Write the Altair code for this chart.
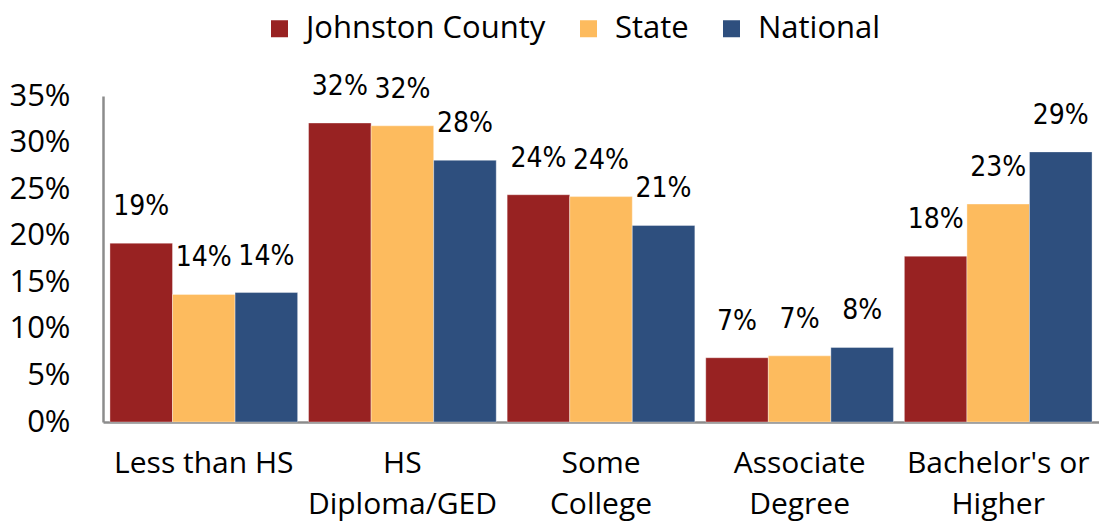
import altair as alt
import pandas as pd

categories = ["Less than HS", "HS|Diploma/GED", "Some|College", "Associate|Degree", "Bachelor's or|Higher"]
series = ["Johnston County", "State", "National"]
johnston = [19.2, 32.1, 24.4, 6.9, 17.8]
state = [13.7, 31.8, 24.2, 7.1, 23.4]
national = [13.9, 28.1, 21.1, 8.0, 29.0]
colors = ["#982222", "#FDBB5E", "#2E4F7E"]
y_ticks = [0, 5, 10, 15, 20, 25, 30, 35]

rows = []
for s, vals in zip(series, [johnston, state, national]):
    for c, v in zip(categories, vals):
        rows.append({"category": c, "series": s, "value": v})
df = pd.DataFrame(rows)

label_font = "DejaVu Sans Condensed, sans-serif"
axis_font = "Open Sans, Noto Sans, DejaVu Sans, sans-serif"

x_enc = alt.X("category:N", sort=categories,
              scale=alt.Scale(paddingInner=0.055, paddingOuter=0.035),
              axis=alt.Axis(title=None, labelAngle=0, labelExpr="split(datum.label, '|')",
                            labelFont=axis_font, labelFontSize=30, labelColor="#000",
                            labelPadding=26, labelLineHeight=41, labelLimit=400, ticks=False,
                            domainColor="#8c8c8c", domainWidth=2.5))
xo_enc = alt.XOffset("series:N", sort=series, scale=alt.Scale(paddingInner=0, paddingOuter=0))
y_enc = alt.Y("value:Q", scale=alt.Scale(domain=[0, 35], nice=False),
              axis=alt.Axis(title=None, values=y_ticks, labelExpr="datum.value + '%'",
                            labelFont=axis_font, labelFontSize=31, labelColor="#000",
                            labelPadding=33, ticks=False, grid=False,
                            domainColor="#8c8c8c", domainWidth=2.5))

bars = alt.Chart(df).mark_bar(stroke="#ffffff", strokeWidth=0.6, strokeOpacity=0.6).encode(
    x=x_enc, xOffset=xo_enc, y=y_enc,
    color=alt.Color("series:N", sort=series,
                    scale=alt.Scale(domain=series, range=colors),
                    legend=alt.Legend(title=None, orient="none", direction="horizontal",
                                      legendX=161, legendY=-83,
                                      symbolType="square", symbolSize=289, symbolStrokeWidth=0,
                                      labelFont=axis_font, labelFontSize=31, labelColor="#000",
                                      labelOffset=11, columnPadding=27, labelLimit=400)),
)

labels = alt.Chart(df).transform_calculate(
    label="format(datum.value, '.0f') + '%'"
).mark_text(font=label_font, fontSize=28, dy=-36, baseline="middle", color="#000").encode(
    x=alt.X("category:N", sort=categories), xOffset=alt.XOffset("series:N", sort=series),
    y="value:Q", text="label:N",
)

chart = alt.layer(bars, labels).properties(
    width=1091, height=513,
    autosize=alt.AutoSizeParams(type="fit", contains="padding"),
    padding={"left": 0, "top": 72, "right": 0, "bottom": 2},
).configure_view(stroke=None)

chart.save("out.html", embed_options={"renderer": "svg", "actions": False})
